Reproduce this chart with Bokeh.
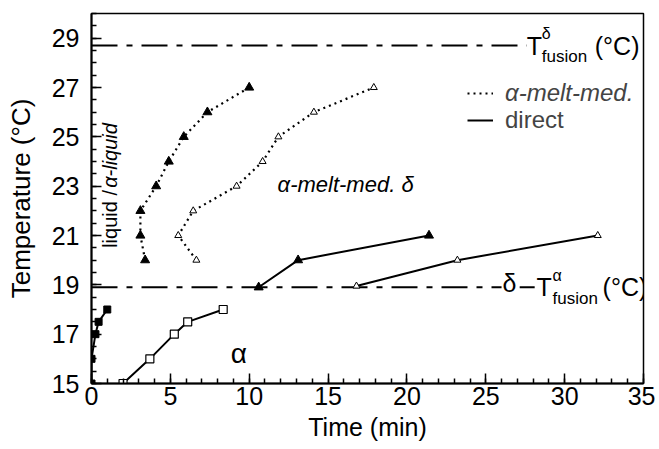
import numpy as np
from bokeh.plotting import figure
from bokeh.models import Label, Legend, LegendItem, FixedTicker, Range1d
from bokeh.embed import file_html
from bokeh.resources import INLINE

# ---------------- data ----------------
alpha_filled_t = [0.0, 0.0, 0.25, 0.45, 1.0]
alpha_filled_T = [15, 16, 17, 17.5, 18]
alpha_open_t = [2.0, 3.7, 5.25, 6.1, 8.35]
alpha_open_T = [15, 16, 17, 17.5, 18]

mm_filled_t = [3.4, 3.1, 3.1, 4.1, 4.9, 5.85, 7.35, 10.0]
mm_filled_T = [20, 21, 22, 23, 24, 25, 26, 27]
mm_open_t = [6.65, 5.5, 6.45, 9.2, 10.85, 11.85, 14.1, 17.9]
mm_open_T = [20, 21, 22, 23, 24, 25, 26, 27]

dir_filled_t = [10.6, 13.1, 21.4]
dir_filled_T = [18.9, 20, 21]
dir_open_t = [16.8, 23.2, 32.1]
dir_open_T = [18.95, 20, 21]

T_fus_delta = 28.7
T_fus_alpha = 18.9
fus_delta_end = 27.6   # where the dashed line stops (time units)
fus_alpha_end = 26.0

x_ticks = [0, 5, 10, 15, 20, 25, 30, 35]
y_ticks = [15, 17, 19, 21, 23, 25, 27, 29]
x_minor = list(range(0, 36))
y_minor = [15 + 0.5 * i for i in range(31)]

x_title = "Time (min)"
y_title = "Temperature (°C)"

FONT = "Liberation Sans"

p = figure(width=655, height=449, output_backend="svg", toolbar_location=None,
           x_range=Range1d(0, 35), y_range=Range1d(15, 30),
           min_border_left=91, min_border_right=12, min_border_top=13, min_border_bottom=66)
p.grid.visible = False
p.outline_line_color = "black"
p.outline_line_width = 1.5
p.background_fill_color = "white"
p.border_fill_color = "white"

for ax in (p.xaxis[0], p.yaxis[0]):
    ax.axis_line_width = 2
    ax.major_tick_in = 10
    ax.major_tick_out = 0
    ax.minor_tick_in = 5
    ax.minor_tick_out = 0
    ax.major_tick_line_width = 1.5
    ax.minor_tick_line_width = 1.5
    ax.major_label_text_font = FONT
    ax.major_label_text_font_size = "25px"
    ax.major_label_text_color = "black"
    ax.axis_label_text_font = FONT
    ax.axis_label_text_font_style = "normal"
    ax.axis_label_text_color = "black"

p.xaxis.ticker = FixedTicker(ticks=x_ticks, minor_ticks=x_minor)
p.yaxis.ticker = FixedTicker(ticks=y_ticks, minor_ticks=y_minor)
p.xaxis.axis_label = x_title
p.yaxis.axis_label = y_title
p.xaxis.axis_label_text_font_size = "25px"
p.yaxis.axis_label_text_font_size = "26px"
p.xaxis.major_label_standoff = 3
p.xaxis.axis_label_standoff = 5
p.yaxis.major_label_standoff = 12
p.yaxis.axis_label_standoff = 13

# ---------------- reference lines ----------------
DASH = "26 9 6 9"
p.line([0, fus_delta_end], [T_fus_delta, T_fus_delta], line_color="black",
       line_width=2, line_dash=DASH)
p.line([0, fus_alpha_end], [T_fus_alpha, T_fus_alpha], line_color="black",
       line_width=2, line_dash=DASH)

# ---------------- series ----------------
dotted = "2 4"
r_dot = p.line(mm_filled_t, mm_filled_T, line_color="black", line_width=2.2, line_dash=dotted)
p.line(mm_open_t, mm_open_T, line_color="black", line_width=2.2, line_dash=dotted)
p.scatter(mm_filled_t, mm_filled_T, marker="triangle", size=9, fill_color="black", line_color="black")
p.scatter(mm_open_t, mm_open_T, marker="triangle", size=7, fill_color="white", line_color="black", line_width=1)

r_solid = p.line(dir_filled_t, dir_filled_T, line_color="black", line_width=2)
p.line(dir_open_t, dir_open_T, line_color="black", line_width=2)
p.scatter(dir_filled_t, dir_filled_T, marker="triangle", size=9, fill_color="black", line_color="black")
p.scatter(dir_open_t, dir_open_T, marker="triangle", size=7, fill_color="white", line_color="black", line_width=1)

p.line(alpha_filled_t, alpha_filled_T, line_color="black", line_width=2)
p.scatter(alpha_filled_t, alpha_filled_T, marker="square", size=7, fill_color="black", line_color="black")
p.line(alpha_open_t, alpha_open_T, line_color="black", line_width=2)
p.scatter(alpha_open_t, alpha_open_T, marker="square", size=8, fill_color="white", line_color="black", line_width=1.2)

# ---------------- legends ----------------
leg1 = Legend(items=[LegendItem(label="α-melt-med.", renderers=[r_dot])],
              location=(376, 276), glyph_width=26, glyph_height=22, label_height=22,
              label_standoff=12, padding=0, margin=0, spacing=0,
              border_line_color=None, background_fill_alpha=0,
              label_text_font=FONT, label_text_font_size="24px", label_text_font_style="italic")
leg2 = Legend(items=[LegendItem(label="direct", renderers=[r_solid])],
              location=(376, 249), glyph_width=26, glyph_height=22, label_height=22,
              label_standoff=12, padding=0, margin=0, spacing=0,
              border_line_color=None, background_fill_alpha=0,
              label_text_font=FONT, label_text_font_size="24px")
p.add_layout(leg1)
p.add_layout(leg2)

# ---------------- annotations ----------------
def lab(x, y, text, size, style="normal", xo=0, yo=0, align="left", base="middle", angle=0):
    p.add_layout(Label(x=x, y=y, text=text, x_offset=xo, y_offset=yo, angle=angle,
                       text_font=FONT, text_font_size=size, text_font_style=style,
                       text_align=align, text_baseline=base, text_color="black"))

# T delta fusion
tx = fus_delta_end
lab(tx, T_fus_delta, "T", "25px", xo=0)
lab(tx, T_fus_delta, "δ", "16px", xo=15, yo=12)
lab(tx, T_fus_delta, "fusion", "17px", xo=15, yo=-11)
lab(tx, T_fus_delta, "(°C)", "25px", xo=68)

# T alpha fusion with delta
ax0 = fus_alpha_end
lab(ax0, T_fus_alpha, "δ", "25px", xo=1, yo=4)
p.line([ax0 + 1.15, ax0 + 2.1], [T_fus_alpha, T_fus_alpha], line_color="black", line_width=2)
lab(ax0, T_fus_alpha, "T", "25px", xo=35)
lab(ax0, T_fus_alpha, "α", "16px", xo=51, yo=12)
lab(ax0, T_fus_alpha, "fusion", "17px", xo=51, yo=-11)
lab(ax0, T_fus_alpha, "(°C)", "25px", xo=101)

lab(11.8, 23.05, "α-melt-med. δ", "22px", style="italic")
lab(9.35, 16.2, "α", "28px", align="center")
lab(1.2, 20.5, "liquid /", "20px", angle=np.pi / 2)
lab(1.2, 20.5, "α-liquid", "20px", style="italic", yo=60, angle=np.pi / 2)

open("out.html", "w").write(file_html(p, INLINE))
